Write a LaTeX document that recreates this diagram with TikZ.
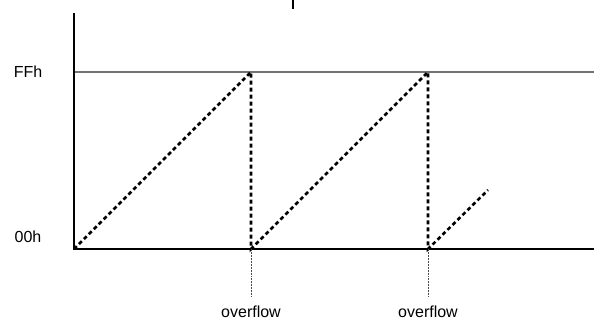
\documentclass[tikz,border=0pt]{standalone}
\usepackage{fontspec}
\setmainfont{Liberation Sans}

\begin{document}
\begin{tikzpicture}[
  x=1pt, y=-1pt,
  font=\fontsize{16}{19}\selectfont,
  axis/.style={line width=1.5pt, draw=black},
  level/.style={line width=1.4pt, draw=black!55},
  ramp/.style={line width=2.6pt, dash pattern=on 4pt off 3pt},
  marker/.style={line width=0.5pt, densely dotted, draw=black!70},
  lbl/.style={inner sep=0pt}
]
\useasboundingbox (0,0) rectangle (594,320);

\coordinate (ytop) at (74,13);
\coordinate (orig) at (74,249);
\coordinate (xend) at (594,249);
\coordinate (ffl) at (74,72);
\coordinate (ffr) at (594,72);
\coordinate (peak1) at (251,72);
\coordinate (drop1) at (251,249);
\coordinate (peak2) at (428,72);
\coordinate (drop2) at (428,249);
\coordinate (tail) at (488,190);
\coordinate (mark1) at (251,297);
\coordinate (mark2) at (428,297);
\coordinate (tick) at (293,0);
\coordinate (tickend) at (293,9);

\node[lbl] (ff) at (28,72) {FFh};
\node[lbl] (zero) at (28,237) {00h};
\node[lbl] (ovf1) at (251,311.5) {overflow};
\node[lbl] (ovf2) at (428,311.5) {overflow};

\draw[level] (ffl) -- (ffr);
\draw[axis] (ytop) -- (orig) -- (xend);
\draw[axis, line width=2pt] (tick) -- (tickend);

\draw[ramp] (orig) -- (peak1) -- (drop1) -- (peak2) -- (drop2) -- (tail);

\draw[marker] (drop1) -- (mark1);
\draw[marker] (drop2) -- (mark2);

\end{tikzpicture}
\end{document}
